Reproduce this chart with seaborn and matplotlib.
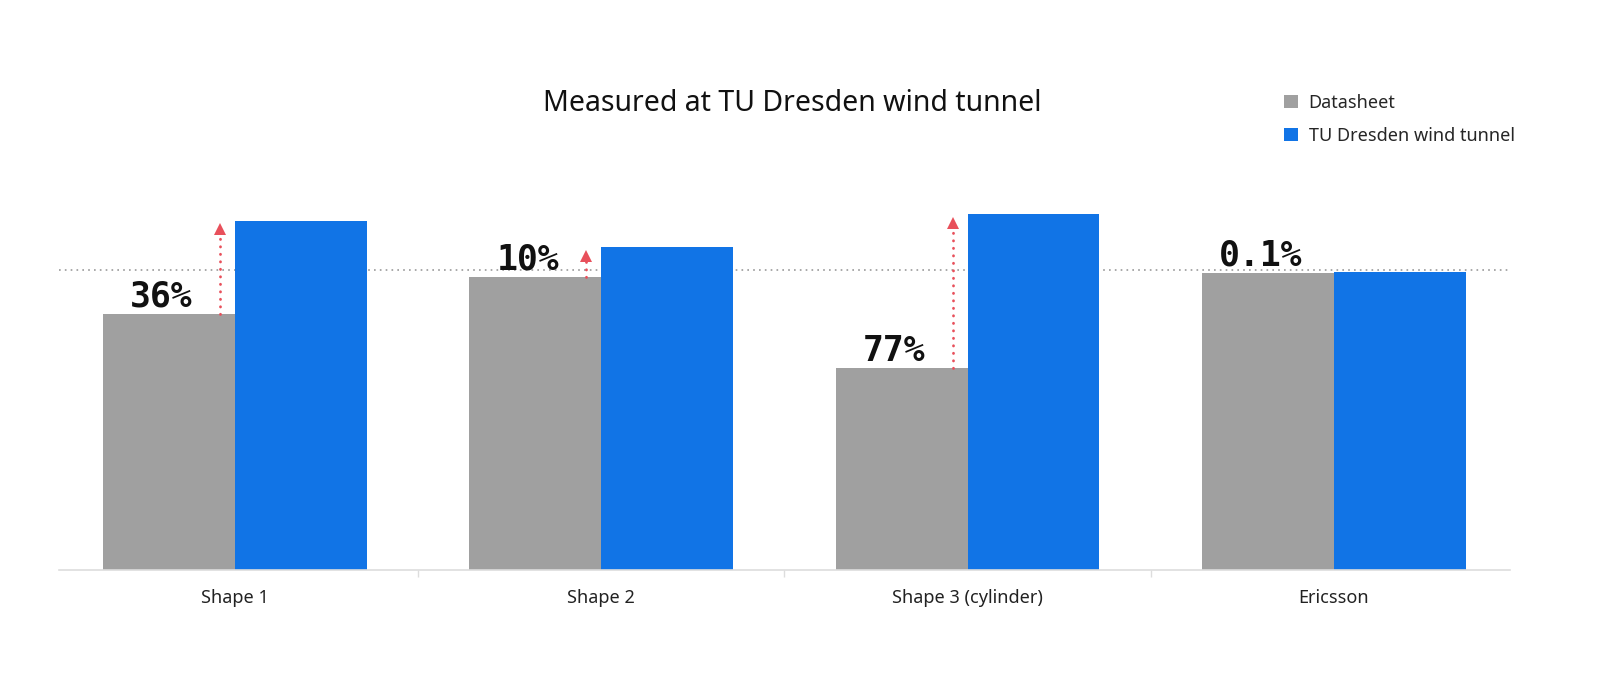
import numpy as np
import pandas as pd
import matplotlib.pyplot as plt
import seaborn as sns
from matplotlib.patches import Patch

categories = ["Shape 1", "Shape 2", "Shape 3 (cylinder)", "Ericsson"]
datasheet = [86.1, 98.5, 67.8, 100.0]
tunnel = [117.5, 108.6, 119.7, 100.1]
diff_labels = ["36%", "10%", "77%", "0.1%"]
show_arrow = [True, True, True, False]
ref_level = 101.0
series_names = ["Datasheet", "TU Dresden wind tunnel"]

gray = "#a0a0a0"
blue = "#1174e6"
red = "#e8505b"

sns.set_theme(style="white")
plt.rcParams['font.family'] = ['Noto Sans', 'DejaVu Sans']

df = pd.DataFrame({
    "category": categories * 2,
    "value": datasheet + tunnel,
    "series": [series_names[0]] * 4 + [series_names[1]] * 4,
})

fig = plt.figure(figsize=(16, 7), dpi=100)
ax = fig.add_axes([0.0368, 0.1863, 0.9068, 0.5304])

ax.axhline(ref_level, color="#999999", lw=1.2, ls=(0, (1, 2.5)), zorder=0)

sns.barplot(data=df, x="category", y="value", hue="series",
            palette={series_names[0]: gray, series_names[1]: blue}, saturation=1,
            width=0.72, gap=0, linewidth=0, legend=False, ax=ax, zorder=2)

ax.set_xlim(-0.48, 3.48)
ax.set_ylim(0, 125)

for i, (g, b, lab, arr) in enumerate(zip(datasheet, tunnel, diff_labels, show_arrow)):
    ax.text(i - 0.2, g + 2.4, lab, ha="center", va="baseline", fontsize=25,
            fontweight="bold", family="DejaVu Sans Mono", color="#111111", zorder=4)
    if arr:
        xa = i - 0.04
        ax.plot([xa, xa], [g, b - 4.5], color=red, lw=2, ls=(0, (0.1, 2.6)),
                dash_capstyle="round", zorder=3)
        ax.plot([xa], [b - 2.9], marker="^", ms=9, color=red, mew=0, zorder=3)

ax.set_xlabel("")
ax.set_ylabel("")
ax.set_yticks([])
for s in ["top", "left", "right"]:
    ax.spines[s].set_visible(False)
ax.spines["bottom"].set_color("#dddddd")
ax.spines["bottom"].set_linewidth(1.2)
ax.set_xticks(range(len(categories)))
ax.set_xticklabels(categories, fontsize=13, color="#222222")
ax.set_xticks([0.5, 1.5, 2.5], minor=True)
ax.tick_params(axis="x", which="major", length=0, pad=14)
ax.tick_params(axis="x", which="minor", length=5, width=1, color="#dddddd", bottom=True)

fig.text(0.495, 0.842, "Measured at TU Dresden wind tunnel", ha="center", va="baseline",
         fontsize=20.5, color="#111111")

handles = [Patch(facecolor=gray, edgecolor="none"), Patch(facecolor=blue, edgecolor="none")]
fig.legend(handles, series_names, loc="upper left", bbox_to_anchor=(0.797, 0.879),
           frameon=False, fontsize=13, handlelength=0.75, handleheight=0.75,
           handletextpad=0.6, labelspacing=0.85, borderpad=0)

fig.savefig("out.png", dpi=100, facecolor="white")
